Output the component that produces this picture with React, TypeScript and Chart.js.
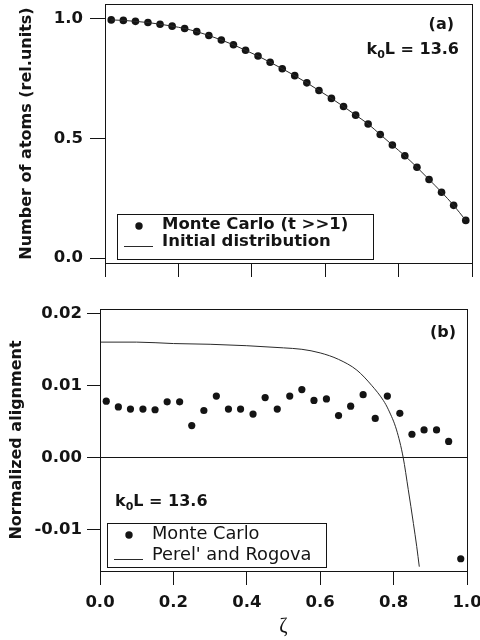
import React, { useEffect, useRef } from "react";
import { Chart, registerables } from "chart.js";

Chart.register(...registerables);

// ---------- data ----------
const zeta = [
  0.017, 0.05, 0.083, 0.117, 0.15, 0.183, 0.217, 0.25, 0.283, 0.317,
  0.35, 0.383, 0.417, 0.45, 0.483, 0.517, 0.55, 0.583, 0.617, 0.65,
  0.683, 0.717, 0.75, 0.783, 0.817, 0.85, 0.883, 0.917, 0.95, 0.983,
];
const atomsMonteCarlo = [
  0.996, 0.994, 0.99, 0.985, 0.978, 0.97, 0.96, 0.947, 0.931, 0.912,
  0.892, 0.869, 0.845, 0.819, 0.792, 0.763, 0.733, 0.701, 0.668, 0.634,
  0.598, 0.561, 0.517, 0.473, 0.428, 0.38, 0.329, 0.276, 0.221, 0.158,
];
const initialDistribution = [
  0.996, 0.994, 0.99, 0.985, 0.978, 0.97, 0.96, 0.947, 0.931, 0.912,
  0.892, 0.869, 0.845, 0.819, 0.792, 0.763, 0.733, 0.701, 0.668, 0.634,
  0.598, 0.561, 0.517, 0.473, 0.428, 0.38, 0.329, 0.276, 0.221, 0.158,
];
const alignmentMonteCarlo = [
  0.0078, 0.007, 0.0067, 0.0067, 0.0066, 0.0077, 0.0077, 0.0044, 0.0065, 0.0085,
  0.0067, 0.0067, 0.006, 0.0083, 0.0067, 0.0085, 0.0094, 0.0079, 0.0081, 0.0058,
  0.0071, 0.0087, 0.0054, 0.0085, 0.0061, 0.0032, 0.0038, 0.0038, 0.0022, -0.0141,
];
const perelX = [
  0, 0.1, 0.2, 0.3, 0.4, 0.5, 0.55, 0.6, 0.65, 0.7,
  0.74, 0.772, 0.786, 0.808, 0.826, 0.84, 0.854, 0.863, 0.87,
];
const perelY = [
  0.016, 0.016, 0.0158, 0.0157, 0.0155, 0.0152, 0.015, 0.0145, 0.0136, 0.0121,
  0.01, 0.0079, 0.0066, 0.0038, 0.0, -0.0045, -0.0092, -0.0124, -0.0152,
];
const xTicks = [0, 0.2, 0.4, 0.6, 0.8, 1.0];
const topYTicks = [0, 0.5, 1.0];
const bottomYTicks = [-0.01, 0, 0.01, 0.02];

// ---------- styles ----------
const FONT = "'DejaVu Sans', sans-serif";
const INK = "#141414";
const LINE = "#2a2a2a";

const pts = (xs: number[], ys: number[]) => xs.map((x, i) => ({ x, y: ys[i] }));

const framePlugin = {
  id: "frame",
  afterDraw(chart: any) {
    const { ctx, chartArea: a } = chart;
    ctx.save();
    ctx.strokeStyle = INK;
    ctx.lineWidth = 1;
    ctx.strokeRect(Math.round(a.left) + 0.5, Math.round(a.top) + 0.5, Math.round(a.right - a.left), Math.round(a.bottom - a.top));
    ctx.restore();
  },
};

function drawK0L(ctx: CanvasRenderingContext2D, x: number, yMid: number, alignRight: boolean) {
  const big = `bold 16px ${FONT}`;
  const small = `bold 11px ${FONT}`;
  ctx.font = big;
  const wk = ctx.measureText("k").width;
  const wr = ctx.measureText("L = 13.6").width;
  ctx.font = small;
  const w0 = ctx.measureText("0").width;
  const total = wk + w0 + wr;
  const left = alignRight ? x - total : x;
  ctx.textAlign = "left";
  ctx.textBaseline = "middle";
  ctx.fillStyle = INK;
  ctx.font = big;
  ctx.fillText("k", left, yMid);
  ctx.font = small;
  ctx.fillText("0", left + wk, yMid + 5);
  ctx.font = big;
  ctx.fillText("L = 13.6", left + wk + w0, yMid);
}

function legendBox(
  ctx: CanvasRenderingContext2D,
  box: { x: number; y: number; w: number; h: number },
  items: { kind: "dot" | "line"; text: string; y: number }[],
  font: string,
  markX: number,
  textX: number
) {
  ctx.save();
  ctx.strokeStyle = INK;
  ctx.lineWidth = 1;
  ctx.strokeRect(box.x + 0.5, box.y + 0.5, box.w, box.h);
  ctx.fillStyle = INK;
  ctx.textAlign = "left";
  ctx.textBaseline = "middle";
  ctx.font = font;
  for (const it of items) {
    if (it.kind === "dot") {
      ctx.beginPath();
      ctx.arc(markX, it.y + 1, 3.7, 0, Math.PI * 2);
      ctx.fill();
    } else {
      ctx.beginPath();
      ctx.strokeStyle = LINE;
      ctx.moveTo(markX - 15, it.y + 4.5);
      ctx.lineTo(markX + 14, it.y + 4.5);
      ctx.stroke();
    }
    ctx.fillText(it.text, textX, it.y);
  }
  ctx.restore();
}

const topAnnotations = {
  id: "topAnno",
  afterDraw(chart: any) {
    const ctx = chart.ctx as CanvasRenderingContext2D;
    ctx.save();
    ctx.fillStyle = INK;
    ctx.font = `bold 16px ${FONT}`;
    ctx.textAlign = "right";
    ctx.textBaseline = "middle";
    ctx.fillText("(a)", 454, 25);
    drawK0L(ctx, 459, 50, true);
    legendBox(
      ctx,
      { x: 117, y: 214, w: 256, h: 45 },
      [
        { kind: "dot", text: "Monte Carlo (t >>1)", y: 225 },
        { kind: "line", text: "Initial distribution", y: 242 },
      ],
      `bold 16.5px ${FONT}`,
      139,
      162
    );
    ctx.restore();
  },
};

const bottomAnnotations = {
  id: "botAnno",
  afterDraw(chart: any) {
    const ctx = chart.ctx as CanvasRenderingContext2D;
    ctx.save();
    ctx.fillStyle = INK;
    ctx.font = `bold 16px ${FONT}`;
    ctx.textAlign = "right";
    ctx.textBaseline = "middle";
    ctx.fillText("(b)", 456, 43);
    drawK0L(ctx, 115, 212, false);
    legendBox(
      ctx,
      { x: 107, y: 233, w: 219, h: 44 },
      [
        { kind: "dot", text: "Monte Carlo", y: 244 },
        { kind: "line", text: "Perel' and Rogova", y: 265 },
      ],
      `17.8px ${FONT}`,
      129,
      152
    );
    ctx.restore();
  },
};

const tickFont = { family: FONT, size: 16.5, weight: "bold" as const };
const titleFont = { family: FONT, size: 16, weight: "bold" as const };

function topConfig(): any {
  return {
    type: "line",
    data: {
      datasets: [
        {
          label: "Initial distribution",
          data: pts(zeta, initialDistribution),
          borderColor: LINE,
          borderWidth: 1,
          pointRadius: 0,
          cubicInterpolationMode: "monotone",
          fill: false,
        },
        {
          label: "Monte Carlo (t >>1)",
          data: pts(zeta, atomsMonteCarlo),
          showLine: false,
          pointRadius: 3.8,
          pointBackgroundColor: INK,
          pointBorderWidth: 0,
        },
      ],
    },
    options: {
      animation: false,
      responsive: false,
      devicePixelRatio: 1,
      events: [],
      layout: { padding: { top: 3, right: 8, left: 0, bottom: 0 } },
      plugins: { legend: { display: false }, tooltip: { enabled: false } },
      scales: {
        x: {
          type: "linear",
          min: 0,
          max: 1,
          afterBuildTicks: (s: any) => {
            s.ticks = xTicks.map((v) => ({ value: v }));
          },
          afterFit: (s: any) => {
            s.height = 27;
            s.paddingLeft = 0;
            s.paddingRight = 0;
          },
          border: { display: false },
          grid: { drawOnChartArea: false, drawTicks: true, tickLength: 14, tickColor: INK },
          ticks: { callback: () => "", padding: 0 },
        },
        y: {
          type: "linear",
          min: -0.02,
          max: 1.0625,
          afterBuildTicks: (s: any) => {
            s.ticks = topYTicks.map((v) => ({ value: v }));
          },
          afterFit: (s: any) => {
            s.width = 105;
            s.paddingTop = 0;
            s.paddingBottom = 0;
          },
          border: { display: false },
          grid: { drawOnChartArea: false, drawTicks: true, tickLength: 15, tickColor: INK },
          ticks: {
            font: tickFont,
            color: INK,
            padding: 7,
            callback: (v: number) => Number(v).toFixed(1),
          },
          title: {
            display: true,
            text: "Number of atoms (rel.units)",
            font: titleFont,
            color: INK,
            padding: { top: 17, bottom: 0 },
          },
        },
      },
    },
    plugins: [framePlugin, topAnnotations],
  };
}

function bottomConfig(): any {
  return {
    type: "line",
    data: {
      datasets: [
        {
          label: "Perel' and Rogova",
          data: pts(perelX, perelY),
          borderColor: LINE,
          borderWidth: 1,
          pointRadius: 0,
          cubicInterpolationMode: "monotone",
          fill: false,
        },
        {
          label: "Monte Carlo",
          data: pts(zeta, alignmentMonteCarlo),
          showLine: false,
          pointRadius: 3.6,
          pointBackgroundColor: INK,
          pointBorderWidth: 0,
        },
      ],
    },
    options: {
      animation: false,
      responsive: false,
      devicePixelRatio: 1,
      events: [],
      layout: { padding: { top: 19, right: 13, left: 0, bottom: 0 } },
      plugins: { legend: { display: false }, tooltip: { enabled: false } },
      scales: {
        x: {
          type: "linear",
          min: 0,
          max: 1,
          afterBuildTicks: (s: any) => {
            s.ticks = xTicks.map((v) => ({ value: v }));
          },
          afterFit: (s: any) => {
            s.height = 69;
            s.paddingLeft = 0;
            s.paddingRight = 0;
          },
          border: { display: false },
          grid: { drawOnChartArea: false, drawTicks: true, tickLength: 14, tickColor: INK },
          ticks: {
            font: tickFont,
            color: INK,
            padding: 8,
            maxRotation: 0,
            autoSkip: false,
            callback: (v: number) => Number(v).toFixed(1),
          },
          title: {
            display: true,
            text: "ζ",
            font: { family: "'Liberation Serif', serif", size: 20 },
            color: INK,
            padding: { top: 0, bottom: 1 },
          },
        },
        y: {
          type: "linear",
          min: -0.0158,
          max: 0.0206,
          afterBuildTicks: (s: any) => {
            s.ticks = bottomYTicks.map((v) => ({ value: v }));
          },
          afterFit: (s: any) => {
            s.width = 100;
            s.paddingTop = 0;
            s.paddingBottom = 0;
          },
          border: { display: false },
          grid: {
            drawOnChartArea: true,
            drawTicks: true,
            tickLength: 13,
            tickColor: INK,
            lineWidth: 1,
            color: (c: any) => (c.tick && Math.abs(c.tick.value) < 1e-9 ? INK : "rgba(0,0,0,0)"),
          },
          ticks: {
            font: tickFont,
            color: INK,
            padding: 5,
            callback: (v: number) => Number(v).toFixed(2),
          },
          title: {
            display: true,
            text: "Normalized alignment",
            font: titleFont,
            color: INK,
            padding: { top: 7, bottom: 0 },
          },
        },
      },
    },
    plugins: [framePlugin, bottomAnnotations],
  };
}

export default function App() {
  const topRef = useRef<HTMLCanvasElement>(null);
  const botRef = useRef<HTMLCanvasElement>(null);
  useEffect(() => {
    const c1 = new Chart(topRef.current as HTMLCanvasElement, topConfig());
    const c2 = new Chart(botRef.current as HTMLCanvasElement, bottomConfig());
    return () => {
      c1.destroy();
      c2.destroy();
    };
  }, []);
  return (
    <div style={{ position: "fixed", left: 0, top: 0, width: 480, height: 640, background: "#fff", overflow: "hidden" }}>
      <canvas
        ref={topRef}
        width={480}
        height={290}
        style={{ position: "absolute", left: 0, top: 0, width: 480, height: 290 }}
      />
      <canvas
        ref={botRef}
        width={480}
        height={350}
        style={{ position: "absolute", left: 0, top: 290, width: 480, height: 350 }}
      />
    </div>
  );
}
